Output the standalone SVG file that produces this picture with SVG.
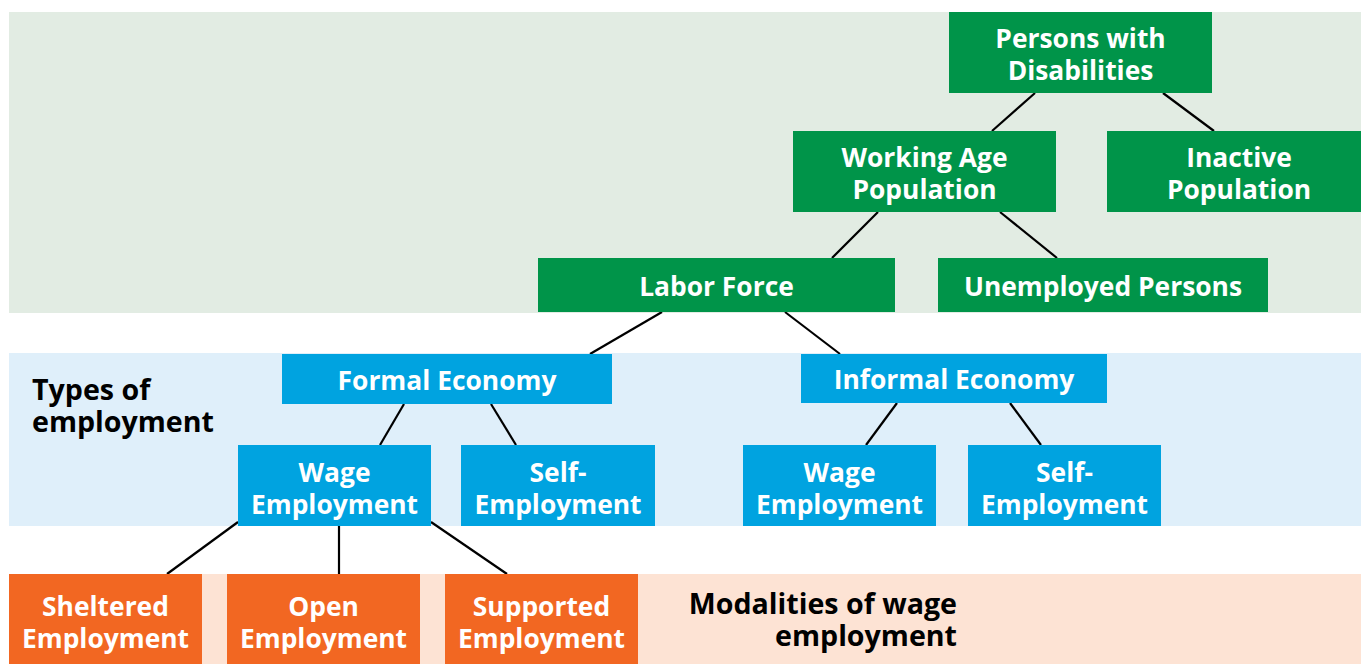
<svg xmlns="http://www.w3.org/2000/svg" width="1361" height="664" viewBox="0 0 1361 664">
<style>
.g{fill:#009449}.b{fill:#00a3e0}.o{fill:#f26722}
.t{font-family:"Open Sans","Liberation Sans",sans-serif;font-weight:bold;font-size:26.4px;fill:#fff;text-anchor:middle}
.l{font-family:"Open Sans","Liberation Sans",sans-serif;font-weight:bold;font-size:28.6px;fill:#000}
.c line{stroke:#000;stroke-width:2.2}
</style>
<rect x="9" y="12" width="1352" height="301" fill="#e2ece3"/>
<rect x="9" y="353" width="1352" height="173" fill="#dfeffa"/>
<rect x="9" y="574" width="1352" height="90" fill="#fde3d4"/>
<g class="c">
<line x1="1035" y1="93" x2="992" y2="131"/>
<line x1="1163" y1="93" x2="1214" y2="131"/>
<line x1="878" y1="212" x2="832" y2="258"/>
<line x1="1000" y1="212" x2="1057" y2="258"/>
<line x1="662" y1="312" x2="590" y2="354"/>
<line x1="785" y1="312" x2="840" y2="354"/>
<line x1="404" y1="404" x2="380" y2="445"/>
<line x1="491" y1="404" x2="516" y2="445"/>
<line x1="897" y1="403" x2="866" y2="445"/>
<line x1="1010" y1="403" x2="1041" y2="445"/>
<line x1="238" y1="522" x2="167" y2="574"/>
<line x1="339" y1="526" x2="339" y2="574"/>
<line x1="431" y1="522" x2="507" y2="574"/>
</g>
<g id="pwd"><rect class="g" x="949" y="12" width="263" height="81"/><text class="t" x="1080.5" y="48">Persons with</text><text class="t" x="1080.5" y="80">Disabilities</text></g>
<g id="wap"><rect class="g" x="793" y="131" width="263" height="81"/><text class="t" x="924.5" y="167">Working Age</text><text class="t" x="924.5" y="199">Population</text></g>
<g id="inactive"><rect class="g" x="1107" y="131" width="254" height="81"/><text class="t" x="1239" y="167">Inactive</text><text class="t" x="1239" y="199">Population</text></g>
<g id="labor"><rect class="g" x="538" y="258" width="357" height="54"/><text class="t" x="716.5" y="296">Labor Force</text></g>
<g id="unemployed"><rect class="g" x="938" y="258" width="330" height="54"/><text class="t" x="1103" y="296">Unemployed Persons</text></g>
<g id="formal"><rect class="b" x="282" y="354" width="330" height="50"/><text class="t" x="447" y="390">Formal Economy</text></g>
<g id="informal"><rect class="b" x="801" y="354" width="306" height="49"/><text class="t" x="954" y="389">Informal Economy</text></g>
<g id="wage1"><rect class="b" x="238" y="445" width="193" height="81"/><text class="t" x="334.5" y="482">Wage</text><text class="t" x="334.5" y="514">Employment</text></g>
<g id="self1"><rect class="b" x="461" y="445" width="194" height="81"/><text class="t" x="558" y="482">Self-</text><text class="t" x="558" y="514">Employment</text></g>
<g id="wage2"><rect class="b" x="743" y="445" width="193" height="81"/><text class="t" x="839.5" y="482">Wage</text><text class="t" x="839.5" y="514">Employment</text></g>
<g id="self2"><rect class="b" x="968" y="445" width="193" height="81"/><text class="t" x="1064.5" y="482">Self-</text><text class="t" x="1064.5" y="514">Employment</text></g>
<g id="sheltered"><rect class="o" x="9" y="574" width="193" height="90"/><text class="t" x="105.5" y="616">Sheltered</text><text class="t" x="105.5" y="648">Employment</text></g>
<g id="open"><rect class="o" x="227" y="574" width="193" height="90"/><text class="t" x="323.5" y="616">Open</text><text class="t" x="323.5" y="648">Employment</text></g>
<g id="supported"><rect class="o" x="445" y="574" width="193" height="90"/><text class="t" x="541.5" y="616">Supported</text><text class="t" x="541.5" y="648">Employment</text></g>
<g id="types"><text class="l" x="32" y="400">Types of</text><text class="l" x="32" y="432">employment</text></g>
<g id="modalities"><text class="l" x="957" y="614" text-anchor="end">Modalities of wage</text><text class="l" x="957" y="646" text-anchor="end">employment</text></g>
</svg>
